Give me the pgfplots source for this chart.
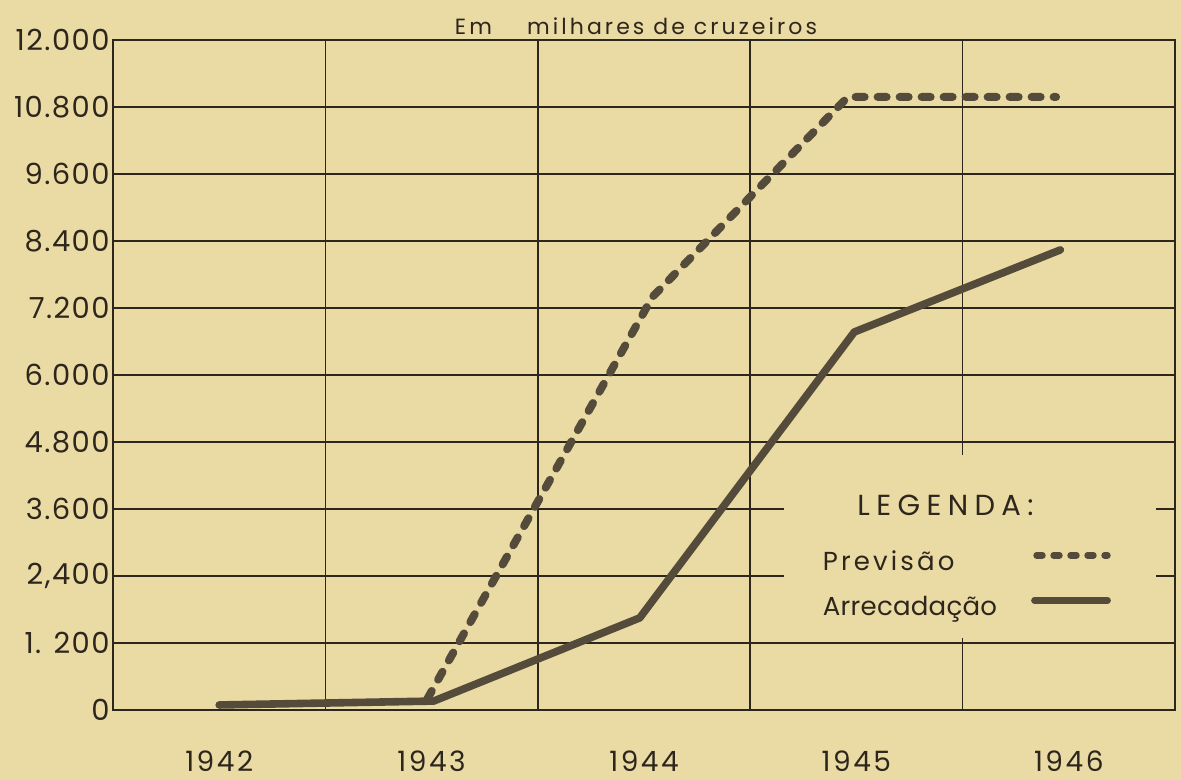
\documentclass[border=0pt]{standalone}
\usepackage{pgfplots}
\pgfplotsset{compat=1.18}
\usepackage{fontspec}
\setmainfont{Poppins}
\definecolor{bgc}{RGB}{234,218,164}
\definecolor{gridc}{RGB}{45,38,28}
\definecolor{linec}{RGB}{85,75,58}
\pgfplotsset{
  prevleg/.style={legend image code/.code={\draw[linec, line width=3.2pt, line cap=round, dash pattern=on 3pt off 5.5pt] (1pt,4.5pt) -- (36.5pt,4.5pt);}},
  arrleg/.style={legend image code/.code={\draw[linec, line width=3.4pt, line cap=round] (0pt,4.5pt) -- (36.5pt,4.5pt);}},
}
\begin{document}
\begin{tikzpicture}
\fill[bgc] (0,0) rectangle (590.5pt,390pt);
\useasboundingbox (0,0) rectangle (590.5pt,390pt);
\begin{axis}[
  at={(56.5pt,35pt)}, anchor=south west,
  scale only axis, width=531pt, height=335pt,
  xmin=1941.5, xmax=1946.5, ymin=0, ymax=12000,
  scaled y ticks=false, scaled x ticks=false,
  axis line style={gridc, line width=0.9pt},
  xtick={1942,1943,1944,1945,1946},
  xticklabels={1942,1943,1944,1945,1946},
  minor xtick={1942.5,1943.5,1944.5,1945.5},
  xminorgrids,
  ytick={0,1200,...,12000},
  yticklabels={0,{1. 200},{2,400},3.600,4.800,6.000,7.200,8.400,9.600,10.800,12.000},
  ymajorgrids,
  major tick length=0pt, minor tick length=0pt,
  grid style={gridc, line width=0.8pt},
  minor grid style={gridc, line width=0.8pt},
  major grid style={gridc, line width=0.8pt},
  yticklabel style={font=\fontsize{14.5}{16}\selectfont\addfontfeature{LetterSpace=5}, text=gridc, inner sep=0pt, xshift=-1.5pt},
  xticklabel style={font=\fontsize{14}{15}\selectfont\addfontfeature{LetterSpace=9}, text=gridc, inner sep=0pt, yshift=-20pt},
  clip=false,
  legend plot pos=right,
  legend cell align=left,
  legend style={at={(rel axis cs:0.6685,0.236)}, anchor=north west, draw=none, fill=none,
    inner sep=0pt, outer sep=0pt, row sep=10pt, column sep=17pt,
    font=\fontsize{13}{15}\selectfont, text=gridc,
    nodes={inner sep=0pt, text height=9.5pt, text depth=3pt}},
]
\fill[bgc] (axis cs:1944.66,1290) rectangle (axis cs:1946.41,4570);
\addplot[linec, line width=4pt, dash pattern=on 4.5pt off 6.5pt, line cap=round, line join=round, prevleg]
  coordinates {(1942.98,200) (1944.04,7400) (1944.96,10980) (1945.94,10980)};
\addplot[linec, line width=3.8pt, line cap=round, line join=round, arrleg]
  coordinates {(1942.00,90) (1943.01,160) (1943.98,1650) (1944.99,6770) (1945.96,8240)};
\legend{{\addfontfeature{LetterSpace=12}Previsão}, {\addfontfeature{LetterSpace=1}Arrecadação}}
\node[anchor=west, font=\fontsize{14.5}{16}\selectfont\addfontfeature{LetterSpace=22}, text=gridc, inner sep=0pt] at (rel axis cs:0.7006,0.306) {LEGENDA:};
\node[anchor=base, font=\fontsize{11}{13}\selectfont\addfontfeature{LetterSpace=14}, text=gridc, inner sep=0pt] at (rel axis cs:0.4925,1) [yshift=2.5pt] {Em\hspace{1.6em}milhares de cruzeiros};
\end{axis}
\end{tikzpicture}
\end{document}
